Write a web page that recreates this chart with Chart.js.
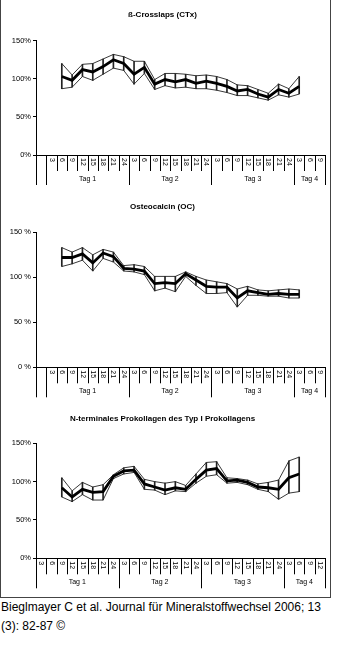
<!DOCTYPE html>
<html>
<head>
<meta charset="utf-8">
<script src="https://cdn.jsdelivr.net/npm/chart.js@4"></script>
<style>
  body { margin: 0; background: #fff; font-family: Arial, "Liberation Sans", sans-serif; }
  #frame { position: absolute; left: 0; top: -1px; width: 329px; height: 597px; border: 1px solid #444; }
  canvas { position: absolute; left: 0; }
  #src { position: absolute; left: 1px; top: 598px; font-size: 12px; line-height: 19px; color: #000; white-space: nowrap; }
</style>
</head>
<body>
<div id="frame"></div>
<canvas id="c1" width="338" height="190" style="top:0px"></canvas>
<canvas id="c2" width="338" height="205" style="top:195px"></canvas>
<canvas id="c3" width="338" height="195" style="top:400px"></canvas>
<div id="src">Bieglmayer C et al. Journal für Mineralstoffwechsel 2006; 13<br>(3): 82-87 ©</div>
<script>
// hour labels per slot (28 slots), '' = unlabeled slot
let hours_a = ['', '3', '6', '9', '12', '15', '18', '21', '24', '3', '6', '9', '12', '15', '18', '21', '24',
               '3', '6', '9', '12', '15', '18', '21', '24', '3', '6', '9'];
let hours_b = ['3', '6', '9', '12', '15', '18', '21', '24', '3', '6', '9', '12', '15', '18', '21', '24',
               '3', '6', '9', '12', '15', '18', '21', '24', '3', '6', '9', '12'];
let tags = ['Tag 1', 'Tag 2', 'Tag 3', 'Tag 4'];
// where each Tag group starts (slot index), last entry = end
let groups_a = [1, 9, 17, 25, 28];
let groups_b = [0, 8, 16, 24, 28];

// ß-Crosslaps (CTx)
let ctx_mean = [null, null, 103, 98, 112, 109, 116, 125, 120, 106, 115, 93, 99, 96, 99, 94, 97, 94, 90, 84, 86, 80, 76, 86, 81, 90, null, null];
let ctx_high = [null, null, 120, 105, 119, 120, 126, 132, 129, 123, 123, 99, 107, 107, 106, 104, 105, 103, 99, 92, 91, 86, 81, 93, 87, 103, null, null];
let ctx_low  = [null, null, 87, 89, 103, 98, 106, 114, 111, 93, 107, 86, 91, 88, 89, 87, 87, 85, 82, 78, 78, 75, 72, 79, 76, 80, null, null];

// Osteocalcin (OC)
let oc_mean = [null, null, 122, 122, 126, 116, 127, 123, 110, 109, 107, 93, 94, 93, 104, 97, 90, 89, 89, 77, 85, 83, 81, 82, 81, 81, null, null];
let oc_high = [null, null, 133, 128, 133, 125, 131, 128, 113, 114, 112, 101, 101, 101, 106, 101, 97, 95, 93, 87, 90, 86, 85, 86, 87, 86, null, null];
let oc_low  = [null, null, 112, 115, 119, 107, 121, 117, 107, 106, 103, 85, 88, 84, 101, 91, 82, 82, 83, 67, 80, 80, 79, 79, 77, 77, null, null];

// N-terminales Prokollagen (P1NP)
let pinp_mean = [null, null, 92, 80, 90, 86, 87, 107, 114, 115, 97, 93, 89, 92, 90, 103, 115, 117, 101, 102, 99, 93, 92, 90, 105, 110, null, null];
let pinp_high = [null, null, 105, 88, 99, 93, 96, 109, 118, 120, 103, 100, 98, 100, 95, 110, 125, 126, 105, 104, 102, 97, 99, 102, 127, 132, null, null];
let pinp_low  = [null, null, 80, 74, 83, 76, 76, 104, 110, 112, 90, 89, 83, 88, 87, 98, 107, 109, 98, 99, 96, 90, 87, 77, 85, 87, null, null];

const FONT = 'Arial, "Liberation Sans", sans-serif';

// hour labels, category separators and Tag labels under the x axis
const groupAxis = {
    id: 'groupAxis',
    afterDraw(chart, args, opts) {
        let x = chart.scales.x;
        let c = chart.ctx;
        let y0 = chart.chartArea.bottom;
        let n = opts.hours.length;
        let edge = (i) => {
            if (i <= 0) return x.left;
            if (i >= n) return x.right;
            return (x.getPixelForValue(i - 1) + x.getPixelForValue(i)) / 2;
        };
        c.save();
        c.strokeStyle = '#000';
        c.lineWidth = 1;
        for (let i = 0; i <= n; i++) {
            let px = Math.round(edge(i)) + 0.5;
            let long = opts.groups.indexOf(i) >= 0 || i == 0;
            c.beginPath();
            c.moveTo(px, y0);
            c.lineTo(px, y0 + (long ? 30 : 16));
            c.stroke();
        }
        c.fillStyle = '#000';
        c.font = '7px ' + FONT;
        c.textAlign = 'left';
        c.textBaseline = 'middle';
        for (let i = 0; i < n; i++) {
            if (!opts.hours[i]) continue;
            c.save();
            c.translate(x.getPixelForValue(i), y0 + 3);
            c.rotate(Math.PI / 2);
            c.fillText(opts.hours[i], 0, 0);
            c.restore();
        }
        c.font = '7px ' + FONT;
        c.textAlign = 'center';
        for (let g = 0; g < tags.length; g++) {
            let mid = (edge(opts.groups[g]) + edge(opts.groups[g + 1])) / 2;
            c.fillText(tags[g], mid, y0 + 24);
        }
        c.restore();
    }
};

function make_chart(id, title, mean, high, low, hours, groups, unit, titlePad, axisH) {
    let bars = high.map((h, i) => (h == null ? null : [low[i], h]));
    return new Chart(document.getElementById(id), {
        type: 'line',
        data: {
            labels: hours,
            datasets: [
                { type: 'bar', data: bars, backgroundColor: '#222', borderWidth: 0, barThickness: 1, order: 3 },
                { data: high, borderColor: '#222', borderWidth: 0.9, pointRadius: 0, tension: 0, order: 2 },
                { data: low, borderColor: '#222', borderWidth: 0.9, pointRadius: 0, tension: 0, order: 2 },
                { data: mean, borderColor: '#000', borderWidth: 2.8, pointRadius: 0, tension: 0, order: 1 }
            ]
        },
        options: {
            responsive: false,
            animation: false,
            devicePixelRatio: 1,
            layout: { padding: { left: 0, right: 13, top: 0, bottom: 0 } },
            plugins: {
                legend: { display: false },
                tooltip: { enabled: false },
                title: {
                    display: true,
                    text: title,
                    color: '#000',
                    font: { family: FONT, size: 8, weight: 'bold' },
                    padding: titlePad
                },
                groupAxis: { hours: hours, groups: groups }
            },
            scales: {
                x: {
                    offset: true,
                    grid: { display: false },
                    border: { display: true, color: '#000', width: 1 },
                    ticks: { display: false },
                    afterFit: (s) => { s.height = axisH; }
                },
                y: {
                    min: 0,
                    max: 150,
                    grid: { drawOnChartArea: false, drawTicks: true, tickLength: 3, color: '#000' },
                    border: { display: true, color: '#000', width: 1 },
                    ticks: {
                        stepSize: 50,
                        padding: 2,
                        color: '#000',
                        font: { family: FONT, size: 7.5 },
                        callback: (v) => v + unit
                    },
                    afterFit: (s) => { s.width = 36; }
                }
            }
        },
        plugins: [groupAxis]
    });
}

make_chart('c1', 'ß-Crosslaps (CTx)', ctx_mean, ctx_high, ctx_low, hours_a, groups_a, '%',
    { top: 10.2, bottom: 20.9 }, 35);
make_chart('c2', 'Osteocalcin (OC)', oc_mean, oc_high, oc_low, hours_a, groups_a, ' %',
    { top: 7.2, bottom: 20.5 }, 32.7);
make_chart('c3', 'N-terminales Prokollagen des Typ I Prokollagens', pinp_mean, pinp_high, pinp_low, hours_b, groups_b, '%',
    { top: 14.2, bottom: 19.5 }, 36.7);
</script>
</body>
</html>
